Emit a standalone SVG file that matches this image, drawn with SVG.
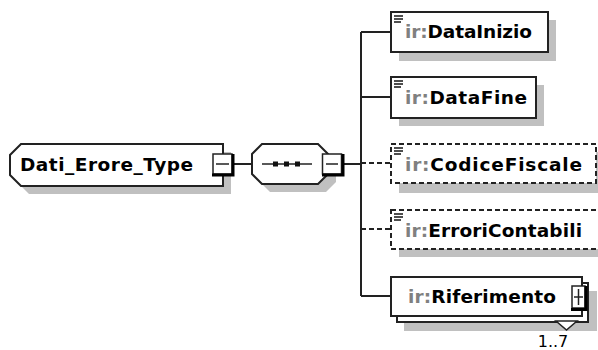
<svg xmlns="http://www.w3.org/2000/svg" width="598" height="350" viewBox="0 0 598 350">
<style>
.shadow{fill:#c0c0c0;stroke:none}
.box{fill:#fff;stroke:#222;stroke-width:2}
.dash{stroke-dasharray:5 3}
.ln{fill:none;stroke:#222;stroke-width:2}
.t{font-family:"DejaVu Sans","Verdana",sans-serif;font-weight:bold;font-size:18.5px;fill:#000}
.ns{fill:#808080}
.occ{font-family:"DejaVu Sans","Verdana",sans-serif;font-size:16px;fill:#000}
.pm{fill:#fff;stroke:#222;stroke-width:1.5}
.pmb{fill:none;stroke:#000;stroke-width:3}
.ic{stroke:#222;stroke-width:1.6}
</style>
<defs>
<g id="icon">
<line class="ic" x1="0" y1="0" x2="9" y2="0"/>
<line class="ic" x1="0" y1="3" x2="9" y2="3"/>
<line class="ic" x1="0" y1="6" x2="7" y2="6"/>
</g>
</defs>

<g id="connectors">
<line class="ln" x1="233" y1="164" x2="252" y2="164"/>
<line class="ln" x1="343" y1="164" x2="361" y2="164"/>
<line class="ln" x1="361" y1="32" x2="361" y2="296"/>
<line class="ln" x1="361" y1="32" x2="391" y2="32"/>
<line class="ln" x1="361" y1="97" x2="391" y2="97"/>
<line class="ln dash" x1="361" y1="163" x2="391" y2="163"/>
<line class="ln dash" x1="361" y1="229" x2="391" y2="229"/>
<line class="ln" x1="361" y1="296" x2="391" y2="296"/>
</g>

<g id="Dati_Erore_Type">
<path class="shadow" d="M29,152 L231,152 L231,194 L29,194 L18,183 L18,163 Z"/>
<path class="box" d="M21,144 L223,144 L223,186 L21,186 L10,175 L10,155 Z"/>
<text class="t" x="20" y="171" textLength="173">Dati_Erore_Type</text>
<rect class="pm" x="213" y="154" width="19" height="20"/>
<path class="pmb" d="M233,154 L233,175 L212,175"/>
<line x1="216" y1="164" x2="229" y2="164" stroke="#222" stroke-width="1.5"/>
</g>

<g id="sequence">
<path class="shadow" d="M270,152 L326,152 L336,162 L336,182 L326,192 L270,192 L260,182 L260,162 Z"/>
<path class="box" d="M262,144 L318,144 L328,154 L328,174 L318,184 L262,184 L252,174 L252,154 Z"/>
<line x1="262" y1="164" x2="312" y2="164" stroke="#222" stroke-width="1.5"/>
<rect x="273" y="161.5" width="5" height="5" fill="#111"/>
<rect x="284" y="161.5" width="5" height="5" fill="#111"/>
<rect x="295" y="161.5" width="5" height="5" fill="#111"/>
<rect class="pm" x="322.5" y="154" width="19" height="20"/>
<path class="pmb" d="M343,154 L343,175 L322,175"/>
<line x1="326" y1="164" x2="338" y2="164" stroke="#222" stroke-width="1.5"/>
</g>

<g id="DataInizio">
<rect class="shadow" x="399" y="20" width="157" height="41"/>
<rect class="box" x="391" y="12" width="157" height="40"/>
<use href="#icon" x="394" y="16"/>
<text class="t" x="405" y="38" textLength="127"><tspan class="ns">ir:</tspan>DataInizio</text>
</g>

<g id="DataFine">
<rect class="shadow" x="399" y="85" width="145" height="41"/>
<rect class="box" x="391" y="77" width="145" height="41"/>
<use href="#icon" x="394" y="81"/>
<text class="t" x="405" y="104" textLength="122"><tspan class="ns">ir:</tspan>DataFine</text>
</g>

<g id="CodiceFiscale">
<rect class="shadow" x="399" y="152" width="205" height="41"/>
<rect class="box dash" x="391" y="144" width="205" height="39"/>
<use href="#icon" x="394" y="148"/>
<text class="t" x="405" y="171" textLength="177"><tspan class="ns">ir:</tspan>CodiceFiscale</text>
</g>

<g id="ErroriContabili">
<rect class="shadow" x="399" y="218" width="215" height="39"/>
<rect class="box dash" x="391" y="210" width="215" height="39"/>
<use href="#icon" x="394" y="214"/>
<text class="t" x="405" y="237" textLength="177"><tspan class="ns">ir:</tspan>ErroriContabili</text>
</g>

<g id="Riferimento">
<rect class="shadow" x="404" y="291" width="193" height="40"/>
<rect class="box" x="397" y="283" width="191" height="39"/>
<rect class="box" x="391" y="277" width="191" height="39"/>
<text class="t" x="408" y="303" textLength="148"><tspan class="ns">ir:</tspan>Riferimento</text>
<rect class="pm" x="572" y="286" width="13" height="22"/>
<path class="pmb" d="M586,286 L586,309.5 L571,309.5"/>
<line x1="574" y1="297" x2="583" y2="297" stroke="#222" stroke-width="1.5"/>
<line x1="578.5" y1="289" x2="578.5" y2="305" stroke="#222" stroke-width="1.5"/>
<polygon points="556,321 577,321 566.5,330" fill="#fff" stroke="#222" stroke-width="1.5"/>
<text class="occ" x="553" y="347" text-anchor="middle">1..7</text>
</g>
</svg>
